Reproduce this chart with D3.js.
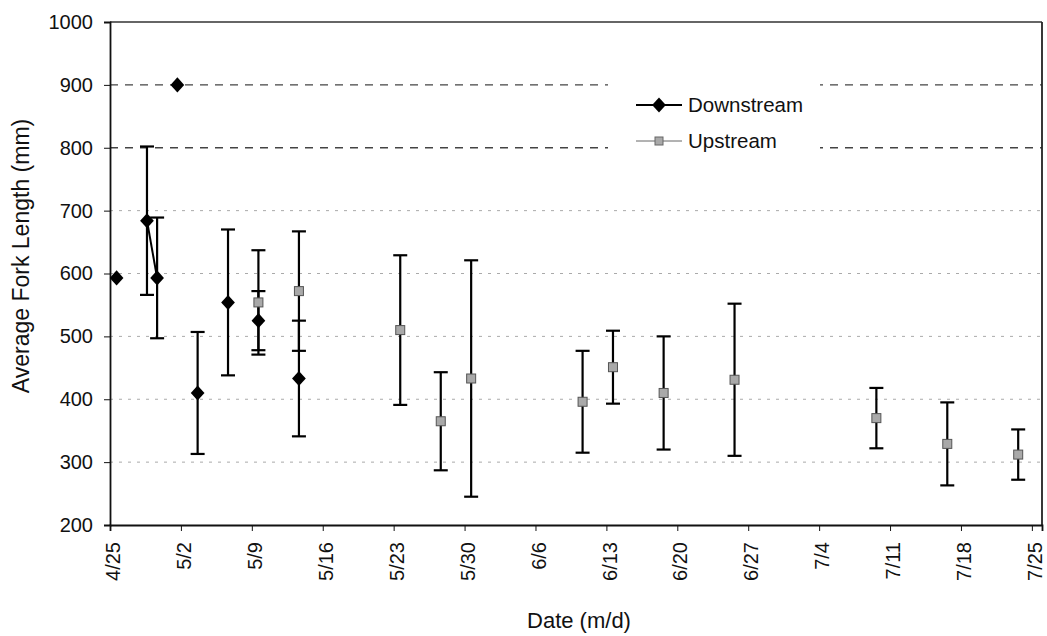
<!DOCTYPE html>
<html>
<head>
<meta charset="utf-8">
<script src="https://cdn.jsdelivr.net/npm/d3@7"></script>
<style>
  html, body { margin: 0; padding: 0; background: #fff; }
  svg { display: block; font-family: Arial, "Liberation Sans", sans-serif; }
</style>
</head>
<body>
<svg id="chart" width="1047" height="636"></svg>
<script>
// Sampling dates (m/d), mean fork length and ± error (mm); null = single fish, no bar
const downDates = ["4/25", "4/28", "4/29", "5/1", "5/3", "5/6", "5/9", "5/13"];
const downMean  = [593, 684, 593, 900, 410, 554, 525, 433];
const downErr   = [null, 118, 96, null, 97, 116, 47, 92];

const upDates = ["5/9", "5/13", "5/23", "5/27", "5/30", "6/10", "6/13", "6/18", "6/25", "7/9", "7/16", "7/23"];
const upMean  = [554, 572, 510, 365, 433, 396, 451, 410, 431, 370, 329, 312];
const upErr   = [83, 95, 119, 78, 188, 81, 58, 90, 121, 48, 66, 40];

// Axis ticks
const xTickLabels = ["4/25", "5/2", "5/9", "5/16", "5/23", "5/30", "6/6", "6/13", "6/20", "6/27", "7/4", "7/11", "7/18", "7/25"];
const yTickValues = [200, 300, 400, 500, 600, 700, 800, 900, 1000];
const xDomainLabels = ["4/25", "7/26"];

const YEAR = 2004;
const DAY = 864e5;
const parse = s => d3.utcParse("%m/%d/%Y")(s + "/" + YEAR);
// each sample is plotted inside its day slot, a little past the day boundary
const SLOT = 0.65;
const at = s => new Date(+parse(s) + SLOT * DAY);

const svg = d3.select("#chart");
const plotL = 110, plotR = 1042, plotT = 22, plotB = 525;
const FONT = "Arial, 'Liberation Sans', sans-serif";

const x = d3.scaleUtc().domain(xDomainLabels.map(parse)).range([plotL, plotR]);
const y = d3.scaleLinear().domain([200, 1000]).range([plotB, plotT]);
// date labels sit slightly to the right of their tick marks
const labelShift = (x(new Date(+parse("4/25") + DAY)) - x(parse("4/25"))) * 0.3;

svg.append("rect").attr("width", 1047).attr("height", 636).attr("fill", "#fff");

// Horizontal gridlines
svg.append("g").selectAll("line")
  .data(yTickValues.filter(v => v > 200 && v < 1000))
  .join("line")
  .attr("x1", plotL).attr("x2", plotR)
  .attr("y1", d => y(d)).attr("y2", d => y(d))
  .attr("stroke", d => d >= 800 ? "#444" : "#aaa")
  .attr("stroke-width", d => d >= 800 ? 1.3 : 1)
  .attr("stroke-dasharray", d => d >= 800 ? "8,7" : "3,6");

// Plot frame (top and right)
svg.append("line").attr("x1", plotL).attr("x2", plotR).attr("y1", plotT).attr("y2", plotT)
  .attr("stroke", "#333").attr("stroke-width", 1.5);
svg.append("line").attr("x1", plotR).attr("x2", plotR).attr("y1", plotT).attr("y2", plotB)
  .attr("stroke", "#222").attr("stroke-width", 1.8);

// Y axis
const yAxis = svg.append("g")
  .attr("transform", `translate(${plotL},0)`)
  .call(d3.axisLeft(y).tickValues(yTickValues).tickSize(6).tickPadding(11).tickFormat(d3.format("d")));
yAxis.select(".domain").attr("stroke", "#111").attr("stroke-width", 1.8);
yAxis.selectAll(".tick line").attr("stroke", "#111");
yAxis.selectAll(".tick text").attr("font-size", 20).attr("fill", "#111").attr("font-family", FONT);

// X axis
const xAxis = svg.append("g")
  .attr("transform", `translate(0,${plotB})`)
  .call(d3.axisBottom(x).tickValues(xTickLabels.map(parse)).tickSize(6)
    .tickFormat(d3.utcFormat("%-m/%-d")));
xAxis.select(".domain").attr("stroke", "#111").attr("stroke-width", 1.8);
xAxis.selectAll(".tick line").attr("stroke", "#111");
xAxis.selectAll(".tick text")
  .attr("font-size", 20).attr("fill", "#111").attr("font-family", FONT)
  .attr("text-anchor", "end")
  .attr("transform", `translate(${labelShift},0) rotate(-90)`)
  .attr("x", -17).attr("y", 0).attr("dy", "0.33em");

// Axis titles
svg.append("text")
  .attr("transform", "translate(29,256) rotate(-90)")
  .attr("text-anchor", "middle").attr("font-size", 23).attr("fill", "#111")
  .text("Average Fork Length (mm)");
svg.append("text")
  .attr("x", 579).attr("y", 628)
  .attr("text-anchor", "middle").attr("font-size", 22).attr("fill", "#111")
  .text("Date (m/d)");

const down = downDates.map((d, i) => ({ date: d, t: at(d), v: downMean[i], e: downErr[i] }));
const up = upDates.map((d, i) => ({ date: d, t: at(d), v: upMean[i], e: upErr[i] }));

// Error bars
function errorBars(data) {
  const g = svg.append("g").attr("stroke", "#000").attr("stroke-width", 2.2);
  const withErr = data.filter(d => d.e != null);
  g.selectAll("line.v").data(withErr).join("line").attr("class", "v")
    .attr("x1", d => x(d.t)).attr("x2", d => x(d.t))
    .attr("y1", d => y(d.v + d.e)).attr("y2", d => y(d.v - d.e));
  g.selectAll("line.hi").data(withErr).join("line").attr("class", "hi")
    .attr("x1", d => x(d.t) - 7).attr("x2", d => x(d.t) + 7)
    .attr("y1", d => y(d.v + d.e)).attr("y2", d => y(d.v + d.e));
  g.selectAll("line.lo").data(withErr).join("line").attr("class", "lo")
    .attr("x1", d => x(d.t) - 7).attr("x2", d => x(d.t) + 7)
    .attr("y1", d => y(d.v - d.e)).attr("y2", d => y(d.v - d.e));
}
errorBars(down);
errorBars(up);

// Downstream line joins samples taken on consecutive days
const runs = [];
down.forEach((d, i) => {
  const prev = down[i - 1];
  if (prev && (+parse(d.date) - +parse(prev.date)) === DAY) runs[runs.length - 1].push(d);
  else runs.push([d]);
});
const line = d3.line().x(d => x(d.t)).y(d => y(d.v));
svg.append("g").selectAll("path").data(runs.filter(r => r.length > 1)).join("path")
  .attr("d", line).attr("fill", "none").attr("stroke", "#000").attr("stroke-width", 2);

// Markers
const diamond = d3.symbol().type(d3.symbolDiamond2).size(120);
svg.append("g").selectAll("path").data(down).join("path")
  .attr("d", diamond)
  .attr("transform", d => `translate(${x(d.t)},${y(d.v)}) scale(1,1.1)`)
  .attr("fill", "#000");

svg.append("g").selectAll("rect").data(up).join("rect")
  .attr("x", d => x(d.t) - 4.5).attr("y", d => y(d.v) - 4.5)
  .attr("width", 9).attr("height", 9)
  .attr("fill", "#a9a9a9").attr("stroke", "#555").attr("stroke-width", 1);

// Legend
const lg = svg.append("g");
lg.append("rect").attr("x", 608).attr("y", 80).attr("width", 212).attr("height", 76).attr("fill", "#fff");
lg.append("line").attr("x1", 636).attr("x2", 682).attr("y1", 105).attr("y2", 105)
  .attr("stroke", "#000").attr("stroke-width", 2);
lg.append("path").attr("d", diamond)
  .attr("transform", "translate(659,105) scale(1,1.1)").attr("fill", "#000");
lg.append("text").attr("x", 688).attr("y", 112).attr("font-size", 20.5).attr("fill", "#111").text("Downstream");

lg.append("line").attr("x1", 636).attr("x2", 682).attr("y1", 141).attr("y2", 141)
  .attr("stroke", "#666").attr("stroke-width", 1);
lg.append("rect").attr("x", 655).attr("y", 137).attr("width", 8).attr("height", 8)
  .attr("fill", "#a9a9a9").attr("stroke", "#666").attr("stroke-width", 1);
lg.append("text").attr("x", 688).attr("y", 148).attr("font-size", 20.5).attr("fill", "#111").text("Upstream");
</script>
</body>
</html>
